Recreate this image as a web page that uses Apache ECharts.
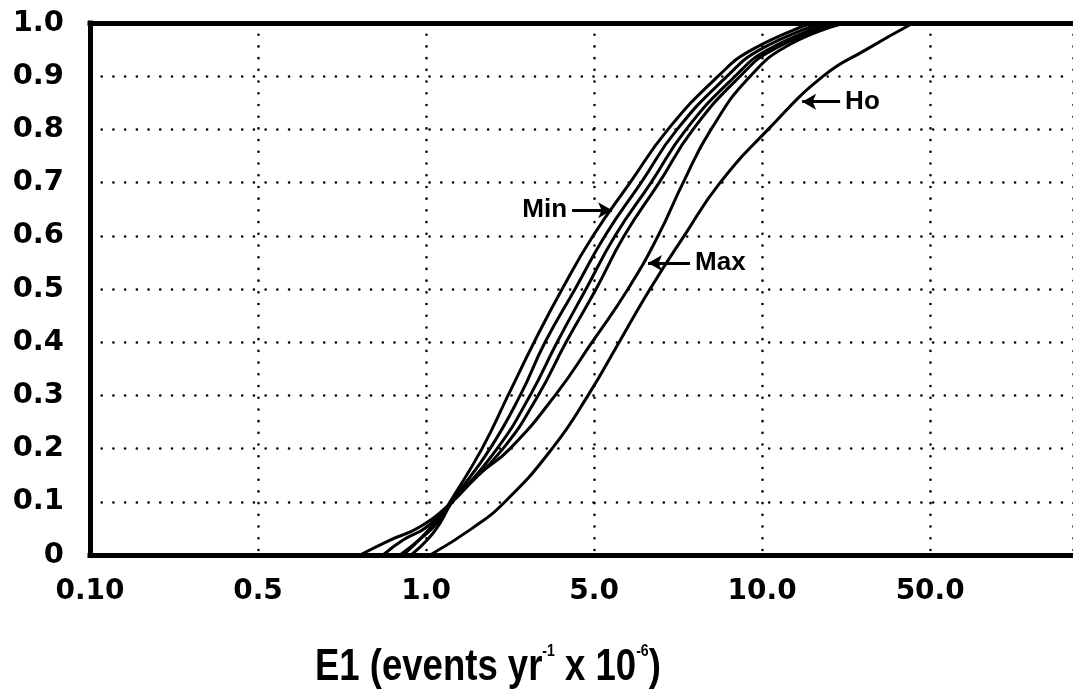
<!DOCTYPE html>
<html><head><meta charset="utf-8">
<script src="https://cdn.jsdelivr.net/npm/echarts@6/dist/echarts.min.js"></script>
<style>html,body{margin:0;padding:0;background:#fff}#c{width:1073px;height:697px}</style>
</head><body><div id="c"></div><script>
// x positions are in tick-index units of the (evenly spaced) E1 axis: 0=0.10, 1=0.5, 2=1.0, 3=5.0, 4=10.0, 5=50.0
const xTickLabels = ['0.10', '0.5', '1.0', '5.0', '10.0', '50.0'];
const yTickLabels = ['0', '0.1', '0.2', '0.3', '0.4', '0.5', '0.6', '0.7', '0.8', '0.9', '1.0'];

const curveMin = [[1.845,0],[1.964,0.03],[2.065,0.06],[2.143,0.1],[2.333,0.2],[2.488,0.3],[2.643,0.4],[2.810,0.5],[2.994,0.6],[3.214,0.7],[3.440,0.8],[3.738,0.9],[3.940,0.95],[4.298,1.0]];
const curveB   = [[1.911,0],[2.012,0.03],[2.083,0.06],[2.155,0.1],[2.381,0.2],[2.560,0.3],[2.708,0.4],[2.887,0.5],[3.065,0.6],[3.280,0.7],[3.494,0.8],[3.792,0.9],[3.988,0.95],[4.357,1.0]];
const curveC   = [[1.744,0],[1.863,0.028],[2.006,0.053],[2.155,0.1],[2.423,0.2],[2.619,0.3],[2.780,0.4],[2.952,0.5],[3.125,0.6],[3.339,0.7],[3.548,0.8],[3.839,0.9],[4.036,0.95],[4.405,1.0]];
const curveD   = [[1.863,0],[1.994,0.04],[2.155,0.1],[2.458,0.2],[2.667,0.3],[2.833,0.4],[3.012,0.5],[3.179,0.6],[3.387,0.7],[3.589,0.8],[3.869,0.9],[4.065,0.95],[4.452,1.0]];
const curveMax = [[1.607,0],[1.786,0.028],[1.964,0.053],[2.155,0.1],[2.310,0.15],[2.500,0.2],[2.768,0.3],[2.988,0.4],[3.202,0.5],[3.381,0.6],[3.530,0.7],[3.696,0.8],[3.929,0.9],[4.167,0.96],[4.494,1.0]];
const curveHo  = [[2.024,0],[2.274,0.05],[2.470,0.1],[2.750,0.2],[2.964,0.3],[3.149,0.4],[3.333,0.5],[3.536,0.6],[3.750,0.7],[4.036,0.8],[4.363,0.9],[4.619,0.95],[4.899,1.0]];

const curves = [curveMin, curveB, curveC, curveD, curveMax, curveHo];

// annotation arrows: label text, arrow tail and arrow tip (data coordinates)
const annotations = [
  { text: 'Min', tail: [2.869, 0.648], tip: [3.107, 0.648] },
  { text: 'Max', tail: [3.571, 0.549], tip: [3.321, 0.549] },
  { text: 'Ho',  tail: [4.464, 0.852], tip: [4.238, 0.852] }
];

const tickFont = '"DejaVu Sans", sans-serif';
const chart = echarts.init(document.getElementById('c'), null, { renderer: 'canvas' });

const dotted = { color: '#000', width: 2.6, type: [0.01, 11.7], cap: 'round' };

const series = curves.map((d) => ({
  type: 'line',
  data: d,
  showSymbol: false,
  smooth: 0.5,
  lineStyle: { color: '#000', width: 3 },
  silent: true,
  z: 3
}));

series[series.length - 1].markLine = {
  silent: true,
  symbol: ['none', 'arrow'],
  symbolSize: [12, 14],
  lineStyle: { color: '#000', width: 2.8, type: 'solid' },
  label: {
    show: true,
    position: 'start',
    distance: 5,
    color: '#000',
    fontFamily: '"Liberation Sans", Arial, sans-serif',
    fontWeight: 'bold',
    fontSize: 26,
    formatter: p => p.name
  },
  data: annotations.map(a => [
    { name: a.text, coord: a.tail },
    { coord: a.tip }
  ])
};

const titleFont = '"Liberation Sans", Arial, sans-serif';

chart.setOption({
  animation: false,
  backgroundColor: '#fff',
  grid: { left: 90, right: 0, top: 23, bottom: 142, containLabel: false },
  xAxis: [{
    type: 'value', min: 0, max: 5.85, interval: 1, position: 'bottom',
    axisLine: { show: true, onZero: false, lineStyle: { color: '#000', width: 5, cap: 'square' } },
    axisTick: { show: false },
    splitLine: { show: true, lineStyle: dotted },
    axisLabel: {
      color: '#000', fontFamily: tickFont, fontWeight: 'bold', fontSize: 28, margin: 23,
      showMaxLabel: false,
      formatter: v => { const i = Math.round(v); return (Math.abs(v - i) < 1e-6 && xTickLabels[i] !== undefined) ? xTickLabels[i] : ''; }
    }
  }, {
    type: 'value', min: 0, max: 5.85, position: 'top',
    axisLine: { show: true, onZero: false, lineStyle: { color: '#000', width: 5, cap: 'square' } },
    axisTick: { show: false }, axisLabel: { show: false }, splitLine: { show: false }
  }],
  yAxis: {
    type: 'value', min: 0, max: 1, interval: 0.1,
    axisLine: { show: true, onZero: false, lineStyle: { color: '#000', width: 5, cap: 'square' } },
    axisTick: { show: false },
    splitLine: { show: true, lineStyle: dotted },
    axisLabel: {
      color: '#000', fontFamily: tickFont, fontWeight: 'bold', fontSize: 29, margin: 26,
      formatter: v => yTickLabels[Math.round(v * 10)]
    }
  },
  graphic: [{
    type: 'text',
    x: 315, y: 643,
    scaleX: 0.83, scaleY: 1,
    silent: true,
    style: {
      text: '{a|E1 (events yr}{s|-1}{a| x 10}{s|-6}{a|)}',
      rich: {
        a: { fontFamily: titleFont, fontWeight: 'bold', fontSize: 44, fill: '#000', lineHeight: 50 },
        s: { fontFamily: titleFont, fontWeight: 'bold', fontSize: 17, fill: '#000', lineHeight: 32, verticalAlign: 'top' }
      }
    }
  }],
  series: series
});
</script></body></html>
